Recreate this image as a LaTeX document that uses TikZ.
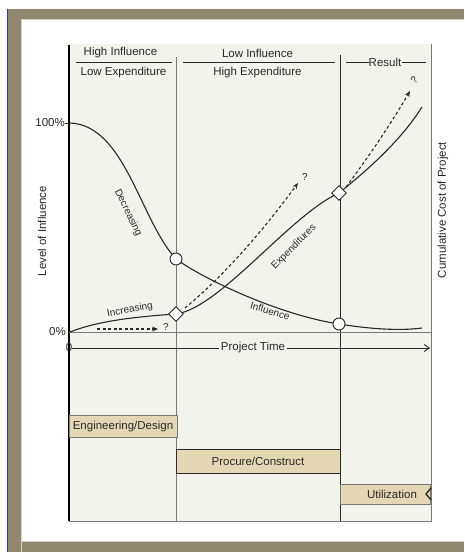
\documentclass[tikz,border=0pt]{standalone}
\usepackage{fontspec}
\setmainfont{Liberation Sans}
\usetikzlibrary{arrows.meta,shapes.geometric}
\definecolor{framecol}{RGB}{143,135,111}
\definecolor{framelight}{RGB}{214,210,192}
\definecolor{edgeblue}{RGB}{40,60,170}
\definecolor{chartbg}{RGB}{243,243,237}
\definecolor{phasecol}{RGB}{228,216,180}
\definecolor{ink}{RGB}{40,40,40}
\definecolor{rule}{RGB}{120,120,120}

\begin{document}
\begin{tikzpicture}[x=1pt,y=-1pt,
  lbl/.style={font=\fontsize{11.5}{13}\selectfont, text=ink, inner sep=0pt},
  curvelbl/.style={font=\fontsize{10}{12}\selectfont, text=ink, inner sep=0pt},
  curve/.style={draw=ink, line width=1.1pt},
  guess/.style={draw=ink, line width=1.1pt, dash pattern=on 3pt off 2.5pt,
                -{Stealth[length=6pt,width=5pt]}},
  marker/.style={circle, draw=ink, fill=white, line width=0.9pt,
                 minimum size=12pt, inner sep=0pt},
  milestone/.style={diamond, draw=ink, fill=white, line width=0.9pt,
                    minimum size=15pt, inner sep=0pt},
  phasebox/.style={draw=rule, fill=phasecol, line width=0.8pt, inner sep=0pt,
                   font=\fontsize{11.5}{13}\selectfont, text=ink},
  hrule/.style={draw=ink, line width=1pt}
]
\useasboundingbox (0,0) rectangle (464,552);
\fill[white] (0,0) rectangle (464,552);

% window frame
\fill[framecol] (8,9) rectangle (464,19);
\fill[framecol] (8,9) rectangle (21,552);
\fill[framecol] (8,542) rectangle (464,552);
\draw[framelight, line width=1pt] (21,552) -- (21,19.5) -- (464,19.5);
\draw[framelight, line width=1pt] (21,541.5) -- (464,541.5);
\draw[edgeblue, line width=1.2pt] (7.5,9) -- (7.5,552);

% chart panel
\fill[chartbg] (69,44) rectangle (431,521);
\draw[rule, line width=1pt] (69,521) -- (431,521) -- (431,44);
\draw[rule, line width=1pt] (176.5,57) -- (176.5,521);
\draw[ink, line width=1pt] (340,55) -- (340,521);
\draw[black, line width=1.2pt] (69,45) -- (69,521);
\draw[rule, line width=1pt] (69,332) -- (431,332);

% phase headers
\node[lbl] (hi) at (120.5,53) {High Influence};
\node[lbl] (le) at (123.5,73) {Low Expenditure};
\node[lbl] (li) at (257.5,53) {Low Influence};
\node[lbl] (he) at (257.5,73) {High Expenditure};
\node[lbl] (res) at (385,62) {Result};
\draw[hrule] (76,62) -- (172,62);
\draw[hrule] (183,62) -- (335,62);
\draw[hrule] (346,62) -- (res.west);
\draw[hrule] (res.east) -- (426,62);

% axes labels
\node[lbl, anchor=east] (p100) at (65,123) {100\%};
\node[lbl, anchor=east] (p0) at (66,332) {0\%};
\draw[ink, line width=0.9pt] (p100.east) -- (69,123);
\node[lbl, rotate=90] (yleft) at (42,231) {Level of Influence};
\node[lbl, rotate=90] (yright) at (443,210) {Cumulative Cost of Project};

% project time axis
\node[lbl] (zero) at (69,348) {0};
\coordinate (tEnd) at (430,348);
\draw[ink, line width=0.9pt, -{Straight Barb[length=5pt,width=7pt]}] (zero.east) -- (tEnd);
\node[lbl, fill=chartbg, inner xsep=2pt] (ptime) at (253,348) {Project Time};

% key points on the curves
\coordinate (infStart) at (70,123);
\coordinate (infA) at (176,259);
\coordinate (infB) at (339,324);
\coordinate (infEnd) at (422,328);
\coordinate (expStart) at (70,332);
\coordinate (expA) at (176,314);
\coordinate (expB) at (339,193);
\coordinate (expEnd) at (422,107);

% influence curve
\draw[curve] (infStart) .. controls (125,125) and (140,220) .. (infA)
             .. controls (205,280) and (280,315) .. (infB)
             .. controls (370,329) and (400,331) .. (infEnd);
% expenditure curve
\draw[curve] (expStart) .. controls (95,322) and (130,317) .. (expA)
             .. controls (220,308) and (290,215) .. (expB)
             .. controls (365,172) and (400,142) .. (expEnd);

% uncertain outcomes
\coordinate (g1s) at (97,329);
\coordinate (g1e) at (158,329);
\coordinate (g2s) at (185,308);
\coordinate (g2e) at (298,183);
\coordinate (g3s) at (346,187);
\coordinate (g3e) at (410,91);
\draw[guess] (g1s) -- (g1e);
\draw[guess] (g2s) .. controls (225,275) and (265,228) .. (g2e);
\draw[guess] (g3s) .. controls (370,155) and (390,125) .. (g3e);
\node[curvelbl] (q1) at (166,327) {?};
\node[curvelbl] (q2) at (305,177) {?};
\node[curvelbl, rotate=45] (q3) at (414,80) {?};

% markers
\node[marker] (mA) at (infA) {};
\node[marker] (mB) at (infB) {};
\node[milestone] (dA) at (expA) {};
\node[milestone] (dB) at (expB) {};

% curve labels
\node[curvelbl, rotate=-64] (decr) at (128,213) {Decreasing};
\node[curvelbl, rotate=10] (incr) at (130,310) {Increasing};
\node[curvelbl, rotate=45] (expl) at (294,247) {Expenditures};
\node[curvelbl, rotate=-17] (infl) at (270,311) {Influence};

% project phases
\node[phasebox, minimum width=108pt, minimum height=22pt] (eng) at (123,426.5) {Engineering/Design};
\node[phasebox, draw=ink, minimum width=164pt, minimum height=24pt] (proc) at (258,461) {Procure/Construct};
\node[phasebox, minimum width=90pt, minimum height=20pt] (util) at (385,494) {};
\node[lbl] (utiltext) at (392,494) {Utilization};
\draw[ink, line width=1.3pt] (431,488) -- (426,494) -- (431,500);
\end{tikzpicture}
\end{document}
